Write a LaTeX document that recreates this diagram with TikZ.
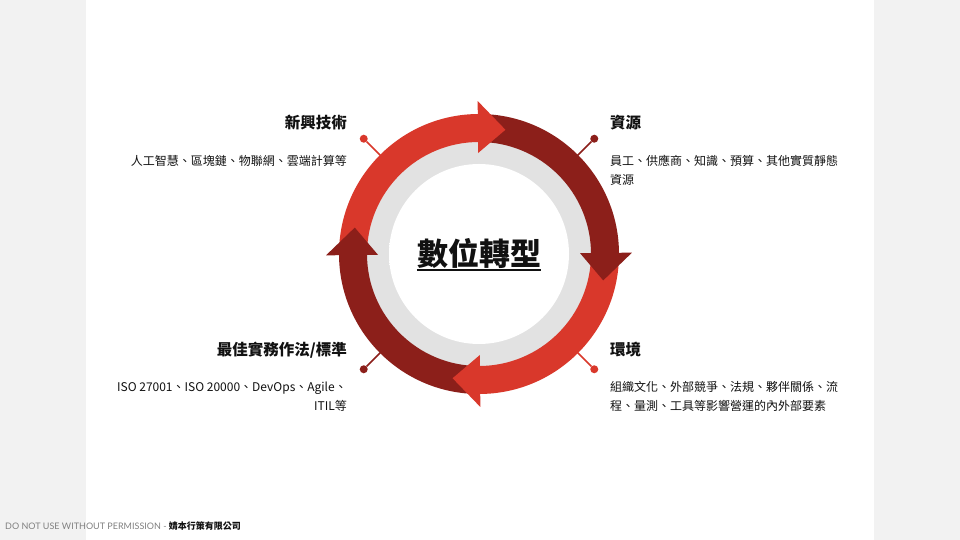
\documentclass[tikz,border=0pt]{standalone}
\usepackage{fontspec}
\setmainfont{Noto Sans CJK TC}
\newfontfamily\latofont{Lato}
\usetikzlibrary{calc}
\definecolor{bright}{HTML}{D9382B}
\definecolor{deep}{HTML}{8C1F1A}
\definecolor{panel}{HTML}{F2F2F2}
\definecolor{band}{HTML}{E2E2E2}
\definecolor{txt}{HTML}{111111}
\definecolor{footgray}{HTML}{808080}
\pgfdeclareradialshading{discshade}{\pgfpoint{0bp}{0bp}}{color(0bp)=(white); color(42bp)=(white); color(48bp)=(white!94!black); color(50bp)=(white!90!black)}
\begin{document}
\begin{tikzpicture}[x=1pt,y=1pt,
  ttl/.style={font=\bfseries\fontsize{15.5}{18}\selectfont, text=txt, inner sep=0},
  desc/.style={font=\fontsize{12}{14}\selectfont, text=txt, inner sep=0},
  pinball/.style={circle, inner sep=0, minimum size=8pt},
  stalk/.style={line width=1.5pt}]
\useasboundingbox (0,0) rectangle (960,540);
\fill[white] (0,0) rectangle (960,540);
\fill[panel] (0,0) rectangle (86,540);
\fill[panel] (874,0) rectangle (960,540);
\coordinate (C) at (479,286);
% gray band and white disc
\fill[band] (C) circle[radius=113];
\shade[shading=discshade] (C) circle[radius=90];
% ring bodies
\fill[bright] ($(C)+(180:140)$) arc[start angle=180,end angle=90,radius=140] -- ($(C)+(90:112)$) arc[start angle=90,end angle=180,radius=112] -- cycle;
\fill[deep] ($(C)+(90:140)$) arc[start angle=90,end angle=0,radius=140] -- ($(C)+(0:112)$) arc[start angle=0,end angle=90,radius=112] -- cycle;
\fill[bright] ($(C)+(0:140)$) arc[start angle=0,end angle=-90,radius=140] -- ($(C)+(-90:112)$) arc[start angle=-90,end angle=0,radius=112] -- cycle;
\fill[deep] ($(C)+(-90:140)$) arc[start angle=-90,end angle=-180,radius=140] -- ($(C)+(-180:112)$) arc[start angle=-180,end angle=-90,radius=112] -- cycle;
% heads
\fill[bright] ($(C)+(90.5:153)$) -- ($(C)+(78:127)$) -- ($(C)+(90.5:101)$) -- cycle;
\fill[deep] ($(C)+(0.5:153)$) -- ($(C)+(-12:127)$) -- ($(C)+(0.5:101)$) -- cycle;
\fill[bright] ($(C)+(-89.5:153)$) -- ($(C)+(-102:127)$) -- ($(C)+(-89.5:101)$) -- cycle;
\fill[deep] ($(C)+(180.5:153)$) -- ($(C)+(168:127)$) -- ($(C)+(180.5:101)$) -- cycle;
% connectors
\coordinate (rTL) at ($(C)+(135:139)$);
\coordinate (rTR) at ($(C)+(45:139)$);
\coordinate (rBR) at ($(C)+(-45:139)$);
\coordinate (rBL) at ($(C)+(-135:139)$);
\node[pinball, fill=bright] (pTL) at ($(C)+(135:163)$) {};
\node[pinball, fill=deep] (pTR) at ($(C)+(45:163)$) {};
\node[pinball, fill=bright] (pBR) at ($(C)+(-45:163)$) {};
\node[pinball, fill=deep] (pBL) at ($(C)+(-135:163)$) {};
\draw[stalk, bright] (rTL) -- (pTL);
\draw[stalk, deep] (rTR) -- (pTR);
\draw[stalk, bright] (rBR) -- (pBR);
\draw[stalk, deep] (rBL) -- (pBL);
% centre title
\node[font=\bfseries\fontsize{31}{35}\selectfont, text=txt, inner sep=0, anchor=base] (core) at (479,274) {數位轉型};
\draw[line width=2pt, txt] ([yshift=-4pt]core.base west) -- ([yshift=-4pt]core.base east);
% texts top-left
\node[ttl, anchor=base east] (tlT) at (347,411.5) {新興技術};
\node[desc, anchor=base east] (tlA) at (347,374.5) {人工智慧、區塊鏈、物聯網、雲端計算等};
% top-right
\node[ttl, anchor=base west] (trT) at (610,411.5) {資源};
\node[desc, anchor=base west] (trA) at (610,374.5) {員工、供應商、知識、預算、其他實質靜態};
\node[desc, anchor=base west] (trB) at (610,355.5) {資源};
% bottom-left
\node[ttl, anchor=base east] (blT) at (347,184.5) {最佳實務作法/標準};
\node[desc, anchor=base east] (blA) at (347,148.5) {ISO 27001、ISO 20000、DevOps、Agile、};
\node[desc, anchor=base east] (blB) at (347,129.5) {ITIL等};
% bottom-right
\node[ttl, anchor=base west] (brT) at (610,184.5) {環境};
\node[desc, anchor=base west] (brA) at (610,148.5) {組織文化、外部競爭、法規、夥伴關係、流};
\node[desc, anchor=base west] (brB) at (610,129.5) {程、量測、工具等影響營運的內外部要素};
% footer
\node[anchor=base west, inner sep=0, font=\fontsize{9}{11}\selectfont] (foot) at (5,10) {{\latofont\color{footgray}DO NOT USE WITHOUT PERMISSION - }{\bfseries\color{txt}婧本行策有限公司}};
\end{tikzpicture}
\end{document}
